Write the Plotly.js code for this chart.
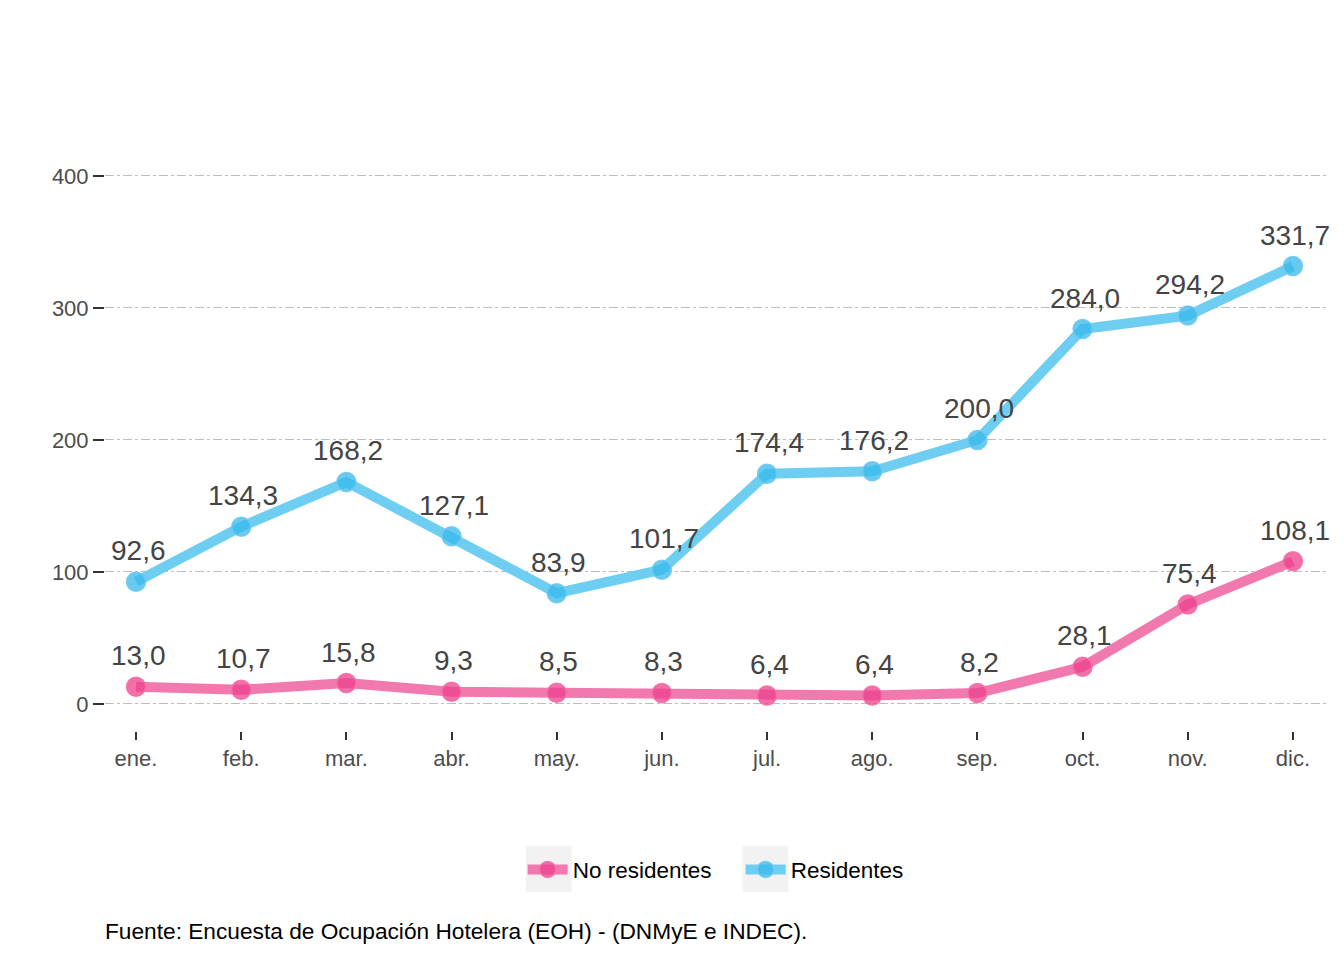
<!DOCTYPE html>
<html>
<head>
<meta charset="utf-8">
<script src="https://cdn.plot.ly/plotly-3.0.1.min.js"></script>
<style>html,body{margin:0;padding:0;background:#fff;}#chart{width:1344px;height:960px;}</style>
</head>
<body>
<div id="chart"></div>
<script>
const months = ["ene.","feb.","mar.","abr.","may.","jun.","jul.","ago.","sep.","oct.","nov.","dic."];
const residentes = [92.6,134.3,168.2,127.1,83.9,101.7,174.4,176.2,200.0,284.0,294.2,331.7];
const noResidentes = [13.0,10.7,15.8,9.3,8.5,8.3,6.4,6.4,8.2,28.1,75.4,108.1];
const yTicks = [0,100,200,300,400];
const caption = "Fuente: Encuesta de Ocupación Hotelera (EOH) - (DNMyE e INDEC).";

const FONT = "Liberation Sans, Arial, sans-serif";
const fmt = v => v.toFixed(1).replace('.', ',');

const traces = [
  {
    x: months, y: noResidentes, name: "No residentes", type: "scatter", mode: "lines+markers",
    line: {color: "rgb(242,121,174)", width: 10},
    marker: {color: "rgba(236,64,140,0.75)", size: 19, line: {width: 1.5, color: "rgba(245,110,165,0.9)"}},
    hoverinfo: "skip"
  },
  {
    x: months, y: residentes, name: "Residentes", type: "scatter", mode: "lines+markers",
    line: {color: "rgb(110,206,242)", width: 10},
    marker: {color: "rgba(55,184,234,0.75)", size: 19, line: {width: 1.5, color: "rgba(110,200,240,0.9)"}},
    hoverinfo: "skip"
  }
];

const annotations = [];
[residentes, noResidentes].forEach(series => {
  series.forEach((v, i) => {
    annotations.push({
      x: months[i], y: v, xref: "x", yref: "y", text: fmt(v), showarrow: false,
      yshift: 31, xshift: 2, font: {family: FONT, size: 28, color: "#444"}
    });
  });
});
annotations.push({
  xref: "paper", yref: "paper", x: -0.0016, y: -0.328, xanchor: "left", yanchor: "middle",
  text: caption, showarrow: false, font: {family: FONT, size: 22.7, color: "#000"}
});

const shapes = [
  {type: "rect", xref: "paper", yref: "paper", x0: 0.3437, x1: 0.3812, y0: -0.2631, y1: -0.1879,
   fillcolor: "#f2f2f2", line: {width: 0}, layer: "below"},
  {type: "rect", xref: "paper", yref: "paper", x0: 0.5208, x1: 0.5584, y0: -0.2631, y1: -0.1879,
   fillcolor: "#f2f2f2", line: {width: 0}, layer: "below"}
];

const layout = {
  width: 1344, height: 960,
  paper_bgcolor: "#fff", plot_bgcolor: "rgba(0,0,0,0)",
  margin: {l: 105, r: 15, t: 120, b: 229},
  font: {family: FONT},
  showlegend: true,
  legend: {
    orientation: "h", x: 0.3412, xanchor: "left", y: -0.2271, yanchor: "middle",
    font: {family: FONT, size: 22.5, color: "#000"}, itemwidth: 40, entrywidth: 163,
    bgcolor: "rgba(0,0,0,0)"
  },
  xaxis: {
    type: "category", range: [-0.295, 11.343],
    showgrid: false, zeroline: false, showline: false,
    ticks: "outside", ticklen: 8, tickwidth: 2, tickcolor: "#333",
    tickfont: {family: FONT, size: 22, color: "#4d4d4d"}
  },
  yaxis: {
    range: [-20.5, 442.4], tickvals: yTicks, ticktext: yTicks.map(String),
    showgrid: true, gridcolor: "#bdbdbd", gridwidth: 1, griddash: "dashdot",
    zeroline: false, showline: false,
    ticks: "outside", ticklen: 11, tickwidth: 2, tickcolor: "#333",
    tickfont: {family: FONT, size: 22, color: "#4d4d4d"}
  },
  shapes: shapes,
  annotations: annotations
};

Plotly.newPlot("chart", traces, layout, {displayModeBar: false, staticPlot: true});
</script>
</body>
</html>
